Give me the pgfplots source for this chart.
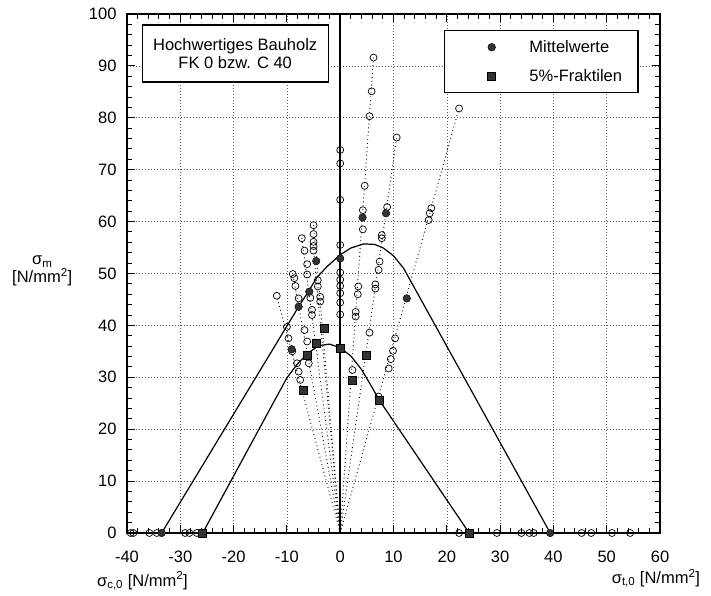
\documentclass[border=0pt]{standalone}
\usepackage{pgfplots}
\pgfplotsset{compat=1.18}
\usepackage{fontspec}
\setmainfont{Liberation Sans}
\begin{document}
\begin{tikzpicture}[font=\fontsize{16.5}{18}\selectfont]
\begin{axis}[
  scale only axis,
  width=533pt, height=519pt,
  xmin=-40, xmax=60, ymin=0, ymax=100,
  xtick={-40,-30,...,60}, ytick={0,10,...,100},
  minor x tick num=4, minor y tick num=4,
  tick align=inside,
  major tick length=8pt, minor tick length=5pt,
  tick style={black, line width=1pt},
  axis line style={line width=1.5pt},
  grid=major,
  major grid style={black!65, line width=0.6pt, dash pattern=on 1pt off 2pt},
  clip=false,
  /pgf/number format/assume math mode=true,
  ticklabel style={font=\fontsize{16.5}{18}\selectfont},
  xticklabel style={yshift=-14pt},
  yticklabel style={xshift=-7pt},
  legend style={at={(axis cs:56,96.9)}, anchor=north east, draw=black, line width=1.3pt, fill=white,
    inner xsep=16pt, inner ysep=2pt, row sep=0pt,
    nodes={inner sep=0pt, anchor=west}, font=\fontsize{16.5}{18}\selectfont},
  legend cell align=left,
  legend image code/.code={\path[draw=none,fill=none] (0pt,-14.5pt) rectangle (69pt,14.5pt); \draw[#1, line width=0.5pt] plot coordinates {(31.3pt,0pt)};},
]
\coordinate (bl) at (rel axis cs:0,0);
\coordinate (tr) at (rel axis cs:1,1);

% rays (load ratios)
\pgfplotsset{ray/.style={black, line width=0.9pt, dash pattern=on 0.9pt off 3pt, forget plot}}
\addplot[ray] coordinates {(0,0) (6.25,91.6)};
\addplot[ray] coordinates {(0,0) (10.6,76.2)};
\addplot[ray] coordinates {(0,0) (22.3,81.8)};
\addplot[ray] coordinates {(0,0) (-5.0,59.3)};
\addplot[ray] coordinates {(0,0) (-5.0,54.4)};
\addplot[ray] coordinates {(0,0) (-7.2,56.8)};
\addplot[ray] coordinates {(0,0) (-8.9,49.9)};
\addplot[ray] coordinates {(0,0) (-11.9,45.7)};

% vertical axis line
\addplot[black, line width=1.5pt, forget plot] coordinates {(0,0) (0,100)};

% interaction curves
\addplot[black, line width=1.2pt, forget plot] coordinates {
(-33.5,0) (-7.8,43.6) (-5.8,46.8) (-4.4,49.2) (-2.5,51.3) (0,53.6) (2,54.9) (4.4,55.7)
(6.5,55.6) (8.1,54.9) (10,53.4) (11.9,51) (39.4,0)};
\addplot[black, line width=1.2pt, forget plot] coordinates {
(-25.8,0) (-10,29.9) (-8,32.6) (-6,34.7) (-4,36.1) (-2,36.4) (0,35.7) (2,34.1)
(4,31.5) (5.5,28.9) (7.4,25.5) (24.2,0)};

% individual test values
\addplot[only marks, mark=o, mark size=3.5pt, black, line width=0.7pt, forget plot] coordinates {
(0,73.8) (0,71.2) (0,64.2) (0,55.5) (0,50.2) (0,48.8) (0,47.6) (0,46.2) (0,44.4) (0,42.1)
(-39.3,0) (-38.8,0) (-35.8,0) (-34.4,0) (-29.1,0) (-28.3,0) (-26.9,0)
(22.3,0) (29.4,0) (34.0,0) (35.5,0) (36.3,0) (45.3,0) (47.1,0) (51.0,0) (54.4,0)
(-5.0,59.3) (-5.0,57.6) (-5.0,56.1) (-5.0,55.3) (-5.0,54.4) (-4.2,48.7) (-4.2,47.5) (-3.75,45.5) (-3.75,44.6)
(-7.2,56.8) (-6.7,54.4) (-6.2,51.8) (-6.2,49.8) (-5.6,45.3) (-5.3,43.0) (-5.3,42.0)
(-8.9,49.9) (-8.6,49.1) (-8.4,47.6) (-7.8,45.2) (-6.7,39.1) (-6.2,36.9) (-5.9,32.7)
(-11.9,45.7) (-10,39.7) (-9.7,37.5) (-9.0,35.0) (-8.1,32.7) (-7.8,31.1) (-7.5,29.5)
(6.25,91.6) (5.9,85.1) (5.5,80.3) (4.6,66.9) (4.25,62.2) (4.25,58.5) (3.4,47.5) (3.3,46.0) (2.9,42.6) (2.9,41.7) (2.3,31.4)
(10.6,76.2) (8.8,62.8) (7.8,57.4) (7.8,56.8) (7.4,52.3) (7.2,50.7) (6.6,47.9) (6.6,47.1) (5.5,38.6)
(22.3,81.8) (17.1,62.6) (16.8,61.6) (16.6,60.3) (10.3,37.5) (9.9,35.1) (9.5,33.5) (9.1,31.7) (7.2,26.3)
};

% mean values
\addplot[only marks, mark=*, mark size=3.8pt, mark options={fill=black!80, draw=black}] coordinates {
(-33.5,0) (39.4,0) (0,52.9) (-4.5,52.4) (-5.8,46.5) (-7.8,43.6) (-9.1,35.4)
(4.2,60.8) (8.6,61.6) (12.5,45.2)};
\addlegendentry{Mittelwerte}
% 5% fractiles
\addplot[only marks, mark=square*, mark size=4pt, mark options={fill=black!80, draw=black}] coordinates {
(-25.8,0) (24.2,0) (0,35.7) (-3.0,39.4) (-4.5,36.5) (-6.1,34.2) (-7.0,27.6)
(2.3,29.5) (4.9,34.3) (7.4,25.5)};
\addlegendentry{5\%-Fraktilen}

% title box
\node[draw=black, line width=1.3pt, fill=white, minimum width=186pt, minimum height=57pt, align=center, inner sep=0pt]
  at (axis cs:-19.7,92.4) {Hochwertiges Bauholz\\FK 0 bzw. C 40};

% axis labels
\node[align=center] at (axis cs:-55.9,50.5) {σ\textsubscript{m}\\{}[N/mm\textsuperscript{2}]};
\node at (axis cs:-37.1,-9.25) {σ\textsubscript{c,0} [N/mm\textsuperscript{2}]};
\node[anchor=west] at (axis cs:50.3,-8.7) {σ\textsubscript{t,0} [N/mm\textsuperscript{2}]};
\end{axis}
\pgfresetboundingbox
\path[use as bounding box] ([xshift=-127pt,yshift=-63pt]bl) rectangle ([xshift=51pt,yshift=14pt]tr);
\end{tikzpicture}
\end{document}
